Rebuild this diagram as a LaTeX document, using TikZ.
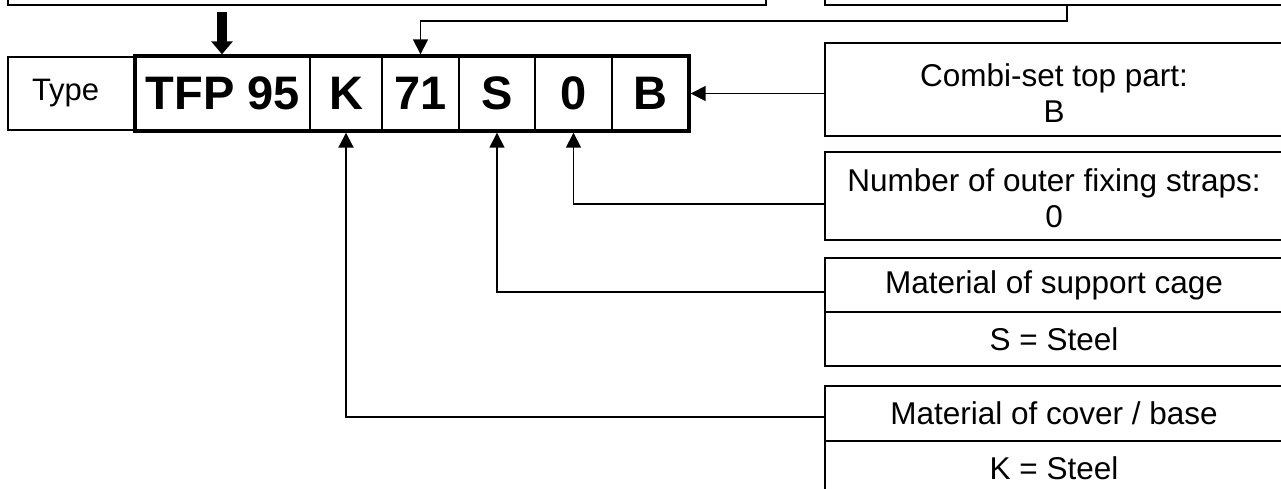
\documentclass[tikz,border=0pt]{standalone}
\usepackage{fontspec}
\setmainfont{Liberation Sans}
\usetikzlibrary{positioning,calc,arrows.meta}

\begin{document}
\begin{tikzpicture}[x=1pt, y=-1pt,
    box/.style={draw, line width=1.4pt, inner sep=0pt, align=center, minimum width=458pt, font=\fontsize{31.5}{36}\selectfont},
    cell/.style={draw, line width=1.4pt, inner sep=0pt, minimum height=73pt, font=\fontsize{47}{50}\selectfont\bfseries},
    arr/.style={line width=1.6pt, -{Triangle[length=15pt, width=15pt]}}]
    \clip (0,0) rectangle (1281,488);

    % boxes cut off by the top edge
    \node[box, minimum width=758pt, minimum height=80pt] (topL) at (387,-35) {};
    \node[box, minimum height=80pt] (topR) at (1054,-35) {};

    % type code
    \node[draw, line width=1.4pt, inner xsep=24pt, inner ysep=0pt, text width=80pt, align=left, minimum height=73pt, font=\fontsize{31}{36}\selectfont] (type) at (72,93.5) {Type};
    \node[cell, minimum width=174pt] (tfp) at (223,93.5) {TFP 95};
    \node[cell, minimum width=72pt] (k) at (346,93.5) {K};
    \node[cell, minimum width=77pt] (n71) at (420.5,93.5) {71};
    \node[cell, minimum width=76pt] (s) at (497,93.5) {S};
    \node[cell, minimum width=77pt] (zero) at (573.5,93.5) {0};
    \node[cell, minimum width=76pt] (b) at (650,93.5) {B};
    \draw[line width=4pt] (tfp.north west) rectangle (b.south east);

    % explanations
    \node[box, minimum height=93pt] (comb) at (1054,89.5) {\rule{0pt}{30pt}Combi-set top part:\\B};
    \node[box, minimum height=88pt] (num) at (1054,196) {\rule{0pt}{28pt}Number of outer fixing straps:\\0};
    \node[box, minimum height=54pt] (supA) at (1054,285) {Material of support cage};
    \node[box, minimum height=54pt] (supB) at (1054,339) {S = Steel};
    \node[box, minimum height=55pt] (covA) at (1054,413.5) {Material of cover / base};
    \node[box, minimum height=55pt] (covB) at (1054,468.5) {K = Steel};

    \coordinate (tfpin) at (222,12);
    \coordinate (c71) at (1067,5);

    \draw[line width=10pt, -{Triangle[length=13pt, width=21pt]}] (tfpin) -- ([yshift=2pt]tfp.north -| tfpin);
    \draw[arr] (c71) -- (1067,21) -| ([yshift=2pt]n71.north);
    \draw[arr] (comb.west |- b.east) -- ([xshift=2pt]b.east);
    \draw[arr] ([yshift=-8pt]num.west) -| ([yshift=-2pt]zero.south);
    \draw[arr] ([yshift=-7pt]supA.west) -| ([yshift=-2pt]s.south);
    \draw[arr, line width=2pt] ([yshift=-3.5pt]covA.west) -| ([yshift=-2pt]k.south);
\end{tikzpicture}
\end{document}
